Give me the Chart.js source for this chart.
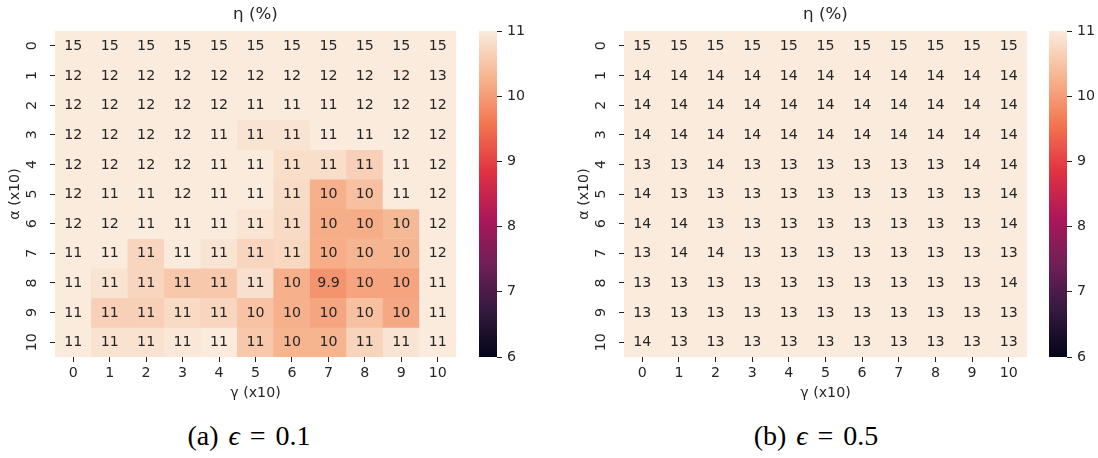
<!DOCTYPE html>
<html>
<head>
<meta charset="utf-8">
<script src="https://cdn.jsdelivr.net/npm/chart.js@4.4.1/dist/chart.umd.min.js"></script>
<style>
  body { margin: 0; background: #fff; width: 1098px; height: 458px; position: relative; overflow: hidden; }
  canvas { position: absolute; top: 0; }
  .cap { position: absolute; top: 420px; font-family: "Liberation Serif", "DejaVu Serif", serif; font-size: 28px; line-height: 32px; word-spacing: 3px; color: #000; white-space: nowrap; transform: translateX(-50%); }
  .cap i { font-style: italic; }
</style>
</head>
<body>
<canvas id="heatA" width="470" height="410" style="left:0px"></canvas>
<canvas id="barA" width="50" height="410" style="left:479px"></canvas>
<canvas id="heatB" width="470" height="410" style="left:569px"></canvas>
<canvas id="barB" width="50" height="410" style="left:1049px"></canvas>
<div class="cap" style="left:249px">(a) <i>ϵ</i> = 0.1</div>
<div class="cap" style="left:816px">(b) <i>ϵ</i> = 0.5</div>
<script>
// gamma (x10) along columns, alpha (x10) along rows
const gammaLabels = ['0','1','2','3','4','5','6','7','8','9','10'];
const alphaLabels = ['0','1','2','3','4','5','6','7','8','9','10'];
const cbarTicks = [6, 7, 8, 9, 10, 11];
const vMin = 6, vMax = 11;

// eta (%) for epsilon = 0.1, one array per alpha row
const etaA0  = [15,15,15,15,15,15,15,15,15,15,15];
const etaA1  = [12,12,12,12,12,12,12,12,12,12,13];
const etaA2  = [12,12,12,12,12,11.2,11.2,11.2,12,12,12];
const etaA3  = [12,12,12,12,11.2,10.9,10.9,11.1,11.1,12,12];
const etaA4  = [12,12,12,12,11.1,11.0,10.83,10.83,10.65,11.2,12];
const etaA5  = [12,11.2,11.2,12,11.1,11.0,10.8,10.25,10.45,11.2,12];
const etaA6  = [12,12,11.2,11.1,11.1,10.92,10.78,10.22,10.22,10.35,12];
const etaA7  = [11.1,11.1,10.72,11.0,10.9,10.72,10.75,10.2,10.3,10.3,12];
const etaA8  = [11.0,10.9,10.72,10.55,10.55,10.85,10.25,9.92,10.1,10.1,11.1];
const etaA9  = [11.0,10.65,10.65,10.78,10.72,10.48,10.25,10.12,10.45,10.15,11.1];
const etaA10 = [11.0,10.88,10.88,10.95,11.0,10.55,10.28,10.28,10.7,10.9,11.1];

// eta (%) for epsilon = 0.5
const etaB0  = [15,15,15,15,15,15,15,15,15,15,15];
const etaB1  = [14,14,14,14,14,14,14,14,14,14,14];
const etaB2  = [14,14,14,14,14,14,14,14,14,14,14];
const etaB3  = [14,14,14,14,14,14,14,14,14,14,14];
const etaB4  = [13,13,14,13,13,13,13,13,13,14,14];
const etaB5  = [14,13,13,13,13,13,13,13,13,13,14];
const etaB6  = [14,14,13,13,13,13,13,13,13,13,14];
const etaB7  = [13,14,14,13,13,13,13,13,13,13,13];
const etaB8  = [13,13,13,13,13,13,13,13,13,13,14];
const etaB9  = [13,13,13,13,13,13,13,13,13,13,13];
const etaB10 = [14,13,13,13,13,13,13,13,13,13,13];

const etaA = [etaA0,etaA1,etaA2,etaA3,etaA4,etaA5,etaA6,etaA7,etaA8,etaA9,etaA10];
const etaB = [etaB0,etaB1,etaB2,etaB3,etaB4,etaB5,etaB6,etaB7,etaB8,etaB9,etaB10];

// rocket colormap, sampled
const rocket = [
  [0.000, [3, 5, 26]],
  [0.143, [53, 25, 62]],
  [0.286, [112, 31, 87]],
  [0.429, [173, 23, 89]],
  [0.571, [225, 51, 66]],
  [0.714, [243, 118, 81]],
  [0.857, [246, 180, 143]],
  [1.000, [250, 235, 221]]
];

function rgb(c) { return 'rgb(' + c.map(Math.round).join(',') + ')'; }

function colorFor(v) {
  var t = Math.min(1, Math.max(0, (v - vMin) / (vMax - vMin)));
  for (var i = 1; i < rocket.length; i++) {
    if (t <= rocket[i][0]) {
      var a = rocket[i - 1], b = rocket[i];
      var f = (t - a[0]) / (b[0] - a[0]);
      return rgb(a[1].map((x, k) => x + (b[1][k] - x) * f));
    }
  }
  return rgb(rocket[rocket.length - 1][1]);
}

const FONT = 'DejaVu Sans';
const INK = '#262626';
const FS = 14.2;

function fmt(v) { return String(Number(v.toPrecision(2))); }

const cellText = {
  id: 'cellText',
  afterDatasetsDraw(chart) {
    const ctx = chart.ctx;
    ctx.save();
    ctx.font = FS + 'px "' + FONT + '"';
    ctx.fillStyle = INK;
    ctx.textAlign = 'center';
    ctx.textBaseline = 'middle';
    chart.data.datasets.forEach((ds, r) => {
      chart.getDatasetMeta(r).data.forEach((bar, c) => {
        const p = bar.getProps(['x', 'y', 'base'], true);
        ctx.fillText(fmt(ds.eta[c]), p.x, (p.y + p.base) / 2 + 0.5);
      });
    });
    ctx.restore();
  }
};

// seaborn draws the row labels turned on their side
const rowTicks = {
  id: 'rowTicks',
  afterDraw(chart) {
    const ctx = chart.ctx, y = chart.scales.y;
    ctx.save();
    ctx.font = FS + 'px "' + FONT + '"';
    ctx.fillStyle = INK;
    ctx.textAlign = 'center';
    ctx.textBaseline = 'middle';
    y.ticks.forEach((t, i) => {
      ctx.save();
      ctx.translate(chart.chartArea.left - 23, y.getPixelForValue(t.value));
      ctx.rotate(-Math.PI / 2);
      ctx.fillText(alphaLabels[i], 0, 0);
      ctx.restore();
    });
    ctx.restore();
  }
};

function makeHeat(id, eta, padRight) {
  const datasets = eta.map((row, r) => ({
    label: 'alpha ' + alphaLabels[r],
    data: row.map(() => 1),
    eta: row,
    backgroundColor: row.map(colorFor),
    borderWidth: 0,
    barPercentage: 1,
    categoryPercentage: 1
  }));
  return new Chart(document.getElementById(id), {
    type: 'bar',
    data: { labels: gammaLabels, datasets: datasets },
    options: {
      responsive: false,
      animation: false,
      layout: { padding: { left: 0, right: padRight, top: 0, bottom: 0 } },
      plugins: {
        legend: { display: false },
        tooltip: { enabled: false },
        title: {
          display: true, text: 'η (%)', fullSize: false, color: INK,
          font: { family: FONT, size: 16.7, weight: 'normal' },
          padding: { top: 5, bottom: 6 }
        }
      },
      scales: {
        x: {
          stacked: true,
          grid: { offset: false, drawOnChartArea: false, drawTicks: true, tickLength: 5, color: '#222' },
          border: { display: false },
          ticks: { color: INK, font: { family: FONT, size: FS }, padding: 3, maxRotation: 0 },
          title: { display: true, text: 'γ (x10)', color: INK, font: { family: FONT, size: FS }, padding: { top: 0, bottom: 8 } },
          afterFit: s => { s.height = 53; }
        },
        y: {
          stacked: true,
          reverse: true,
          min: 0,
          max: alphaLabels.length,
          afterBuildTicks: s => { s.ticks = alphaLabels.map((_, i) => ({ value: i + 0.5 })); },
          grid: { drawOnChartArea: false, drawTicks: true, tickLength: 5, color: '#222' },
          border: { display: false },
          ticks: { display: false },
          title: { display: true, text: 'α (x10)', color: INK, font: { family: FONT, size: FS }, padding: { top: 7, bottom: 0 } },
          afterFit: s => { s.width = 55; }
        }
      }
    },
    plugins: [cellText, rowTicks]
  });
}

function makeBar(id) {
  return new Chart(document.getElementById(id), {
    type: 'bar',
    data: {
      labels: [''],
      datasets: [{
        data: [[vMin, vMax]],
        borderWidth: 0,
        barPercentage: 1,
        categoryPercentage: 1,
        backgroundColor: (c) => {
          const chart = c.chart;
          if (!chart.chartArea) return null;
          const y = chart.scales.y;
          const g = chart.ctx.createLinearGradient(0, y.getPixelForValue(vMin), 0, y.getPixelForValue(vMax));
          rocket.forEach(s => g.addColorStop(s[0], rgb(s[1])));
          return g;
        }
      }]
    },
    options: {
      responsive: false,
      animation: false,
      layout: { padding: { left: 0, right: 0, top: 31, bottom: 53 } },
      plugins: { legend: { display: false }, tooltip: { enabled: false } },
      scales: {
        x: { display: false },
        y: {
          position: 'right',
          min: vMin,
          max: vMax,
          afterBuildTicks: s => { s.ticks = cbarTicks.map(v => ({ value: v })); },
          grid: { drawOnChartArea: false, drawTicks: true, tickLength: 5, color: '#222' },
          border: { display: false },
          ticks: { color: INK, font: { family: FONT, size: FS }, padding: 5 },
          afterFit: s => { s.width = 32; }
        }
      }
    }
  });
}

makeHeat('heatA', etaA, 14);
makeBar('barA');
makeHeat('heatB', etaB, 12);
makeBar('barB');
</script>
</body>
</html>
